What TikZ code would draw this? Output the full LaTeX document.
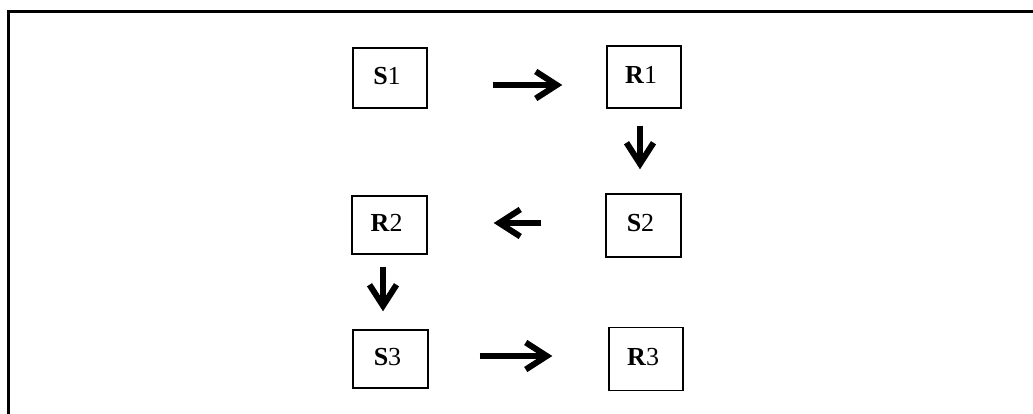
\documentclass[tikz,border=0pt]{standalone}
\usepackage{fontspec}
\setmainfont{Liberation Serif}
\usetikzlibrary{arrows.meta,calc}

\tikzset{
  stage/.style={draw, line width=1.4pt, inner sep=0pt, text depth=5pt,
    font=\fontsize{26}{26}\selectfont, execute at begin node={\kern-6pt}},
  flow/.style={line width=6pt, -{Straight Barb[length=21pt,width=27pt]}},
  frame/.style={line width=3pt}
}

\begin{document}
\begin{tikzpicture}[x=1pt,y=-1pt]
  \useasboundingbox (0,0) rectangle (1033,414);

  % partial outer frame
  \draw[frame] (1033,12) -- (8,12) -- (8,414);

  % stages
  \node[stage, minimum width=74pt, minimum height=60pt] (S1) at (390,78)    {\textbf{S}1};
  \node[stage, minimum width=74pt, minimum height=62pt] (R1) at (644,77)    {\textbf{R}1};
  \node[stage, minimum width=75pt, minimum height=63pt] (S2) at (643.5,225.5) {\textbf{S}2};
  \node[stage, minimum width=75pt, minimum height=58pt] (R2) at (389.5,225) {\textbf{R}2};
  \node[stage, minimum width=75pt, minimum height=58pt] (S3) at (390.5,359) {\textbf{S}3};
  \node[stage, minimum width=74pt, minimum height=63pt] (R3) at (646,359)   {\textbf{R}3};

  % transitions
  \draw[flow] ($(S1.east)+(65,7)$)   -- ($(R1.west)+(-44,8)$);
  \draw[flow] ($(R1.south)+(-4,17)$) -- ($(S2.north)+(-3.5,-24)$);
  \draw[flow] ($(S2.west)+(-64,-2.5)$) -- ($(R2.east)+(66,-2)$);
  \draw[flow] ($(R2.south)+(-6.5,12)$) -- ($(S3.north)+(-7.5,-18)$);
  \draw[flow] ($(S3.east)+(51,-3)$)  -- ($(R3.west)+(-56,-3)$);
\end{tikzpicture}
\end{document}
